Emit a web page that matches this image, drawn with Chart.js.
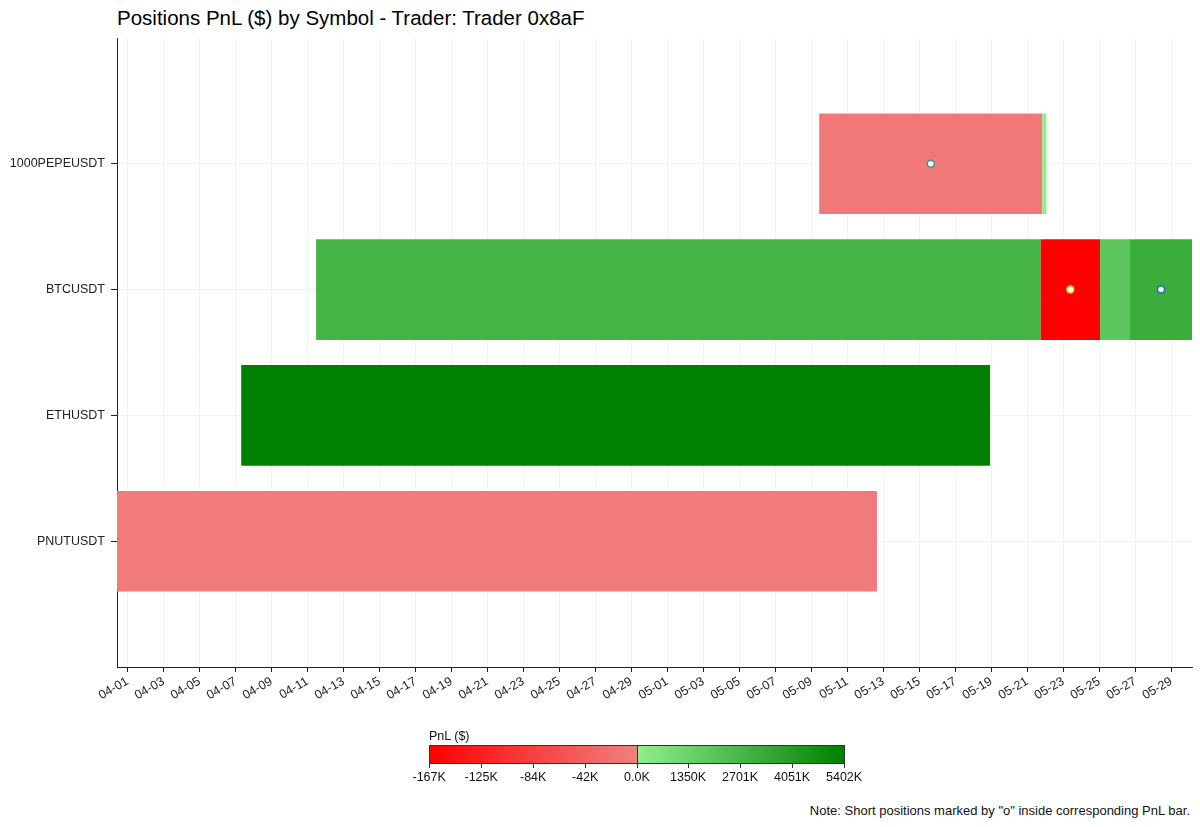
<!DOCTYPE html>
<html>
<head>
<meta charset="utf-8">
<script src="https://cdn.jsdelivr.net/npm/chart.js@4.4.1/dist/chart.umd.min.js"></script>
<style>
  body { margin: 0; background: #fff; }
  #wrap { position: relative; width: 1200px; height: 827px; overflow: hidden;
          font-family: 'Liberation Sans', Arial, Helvetica, sans-serif; color: #000; }
  #title { position: absolute; left: 117px; top: 8px; font-size: 20.5px; line-height: 20px; white-space: nowrap; }
  #chart { position: absolute; left: 0; top: 0; }
  .txt { position: absolute; font-size: 12.5px; line-height: 14px; white-space: nowrap; color: #111; }
  #cbar { position: absolute; left: 429px; top: 745px; width: 416px; height: 19px; box-sizing: border-box;
          border: 1px solid #333; }
  .cbtick { position: absolute; width: 1px; background: #333; }
</style>
</head>
<body>
<div id="wrap">
  <div id="title">Positions PnL ($) by Symbol - Trader: Trader 0x8aF</div>
  <canvas id="chart" width="1200" height="740"></canvas>
  <div class="txt" style="left:429px; top:729px;">PnL ($)</div>
  <div id="cbar"></div>
  <div class="txt" style="right:10px; top:804px; font-size:13px;">Note: Short positions marked by "o" inside corresponding PnL bar.</div>
</div>
<script>
// symbols on the y axis (top to bottom)
const symbols = ['1000PEPEUSDT', 'BTCUSDT', 'ETHUSDT', 'PNUTUSDT'];

// one entry per position segment
const segSymbol = [0, 0, 1, 1, 1, 1, 2, 3];
const segOpen  = ['2025-05-09 10:30', '2025-05-21 20:00', '2025-04-11 11:30', '2025-05-21 17:50',
                  '2025-05-25 01:00', '2025-05-26 17:00', '2025-04-07 07:40', '2025-03-31 10:00'];
const segClose = ['2025-05-21 20:00', '2025-05-22 01:30', '2025-05-21 17:50', '2025-05-25 01:00',
                  '2025-05-26 17:00', '2025-05-30 03:40', '2025-05-18 22:20', '2025-05-12 15:30'];
const segPnlK  = [-10, 15, 2860, -167, 1950, 3190, 5402, -8];
const segShort = [true, false, false, true, false, true, false, false];

// colorbar tick labels
const cbarTicks = ['-167K', '-125K', '-84K', '-42K', '0.0K', '1350K', '2701K', '4051K', '5402K'];

// marker edge colours for short positions (in order of appearance)
const shortEdge = ['#3a9a92', '#f7c600', '#1f6fb4'];

const base = Date.UTC(2025, 3, 1);
const toDay = s => (Date.parse(s.replace(' ', 'T') + ':00Z') - base) / 864e5;
const pad2 = n => (n < 10 ? '0' : '') + n;
function dayLabel(v) {
    const d = new Date(base + v * 864e5);
    return pad2(d.getUTCMonth() + 1) + '-' + pad2(d.getUTCDate());
}

const pnlMin = Math.min(...segPnlK);
const pnlMax = Math.max(...segPnlK);
const RED = [255, 0, 0], CORAL = [240, 128, 128], LGREEN = [144, 238, 144], GREEN = [0, 128, 0];
function mix(a, b, t) {
    return 'rgb(' + a.map((c, i) => Math.round(c + (b[i] - c) * t)).join(',') + ')';
}
function pnlColor(v) {
    if (v < 0) return mix(RED, CORAL, (v - pnlMin) / (0 - pnlMin));
    return mix(LGREEN, GREEN, v / pnlMax);
}

const openDay = segOpen.map(toDay);
const closeDay = segClose.map(toDay);
const xMin = Math.min(...openDay);
const xMax = Math.max(...closeDay);

const barData = segSymbol.map((s, i) => ({ x: [openDay[i], closeDay[i]], y: s }));
const shortPoints = [];
segShort.forEach((isShort, i) => {
    if (isShort) shortPoints.push({ x: (openDay[i] + closeDay[i]) / 2, y: segSymbol[i] });
});

const tickFont = { family: "'Liberation Sans', Arial, sans-serif", size: 12.5 };

new Chart(document.getElementById('chart'), {
    type: 'bar',
    data: {
        datasets: [
            {
                type: 'scatter',
                order: 0,
                data: shortPoints,
                pointRadius: 3.5,
                pointBorderWidth: 1.5,
                pointBackgroundColor: '#ffffff',
                pointBorderColor: shortEdge
            },
            {
                type: 'bar',
                order: 1,
                data: barData,
                backgroundColor: segPnlK.map(pnlColor),
                borderWidth: 0,
                barPercentage: 0.8,
                categoryPercentage: 1.0
            }
        ]
    },
    options: {
        indexAxis: 'y',
        responsive: false,
        animation: false,
        layout: { padding: { left: 0, right: 8, top: 38, bottom: 0 } },
        plugins: {
            legend: { display: false },
            tooltip: { enabled: false }
        },
        scales: {
            x: {
                type: 'linear',
                min: xMin,
                max: xMax,
                offset: false,
                grid: { color: '#f2f2f2', tickColor: '#222', tickLength: 5, offset: false },
                border: { color: '#222', width: 1 },
                ticks: {
                    stepSize: 2,
                    includeBounds: false,
                    autoSkip: false,
                    minRotation: 30,
                    maxRotation: 30,
                    padding: 2,
                    color: '#222',
                    font: tickFont,
                    callback: v => dayLabel(v)
                },
                afterFit: s => { s.height = 73; }
            },
            y: {
                type: 'linear',
                reverse: true,
                min: -1,
                max: 4,
                offset: false,
                grid: { color: '#f2f2f2', tickColor: '#222', tickLength: 6, offset: false },
                border: { color: '#222', width: 1 },
                ticks: {
                    stepSize: 1,
                    padding: 6,
                    color: '#222',
                    font: tickFont,
                    callback: v => symbols[v]
                },
                afterBuildTicks: s => {
                    s.ticks = s.ticks.filter(t => t.value >= 0 && t.value < symbols.length);
                },
                afterFit: s => { s.width = 117; }
            }
        }
    }
});

// colorbar (two-slope: negatives on the left half, positives on the right half)
const cbar = document.getElementById('cbar');
cbar.style.background = 'linear-gradient(to right, ' + mix(RED, RED, 0) + ' 0%, ' + mix(CORAL, CORAL, 0) +
    ' 50%, ' + mix(LGREEN, LGREEN, 0) + ' 50%, ' + mix(GREEN, GREEN, 0) + ' 100%)';
const wrap = document.getElementById('wrap');
const cbLeft = 429, cbWidth = 416, cbTop = 745, cbHeight = 19;
cbarTicks.forEach((label, i) => {
    const x = cbLeft + Math.round(i * (cbWidth - 1) / (cbarTicks.length - 1));
    const tick = document.createElement('div');
    tick.className = 'cbtick';
    tick.style.left = x + 'px';
    tick.style.top = (cbTop + cbHeight) + 'px';
    tick.style.height = '4px';
    wrap.appendChild(tick);
    const t = document.createElement('div');
    t.className = 'txt';
    t.textContent = label;
    t.style.top = (cbTop + cbHeight + 6) + 'px';
    wrap.appendChild(t);
    t.style.left = (x - t.offsetWidth / 2) + 'px';
});
const mid = document.createElement('div');
mid.className = 'cbtick';
mid.style.left = (cbLeft + Math.round((cbWidth - 1) / 2)) + 'px';
mid.style.top = cbTop + 'px';
mid.style.height = cbHeight + 'px';
wrap.appendChild(mid);
</script>
</body>
</html>
